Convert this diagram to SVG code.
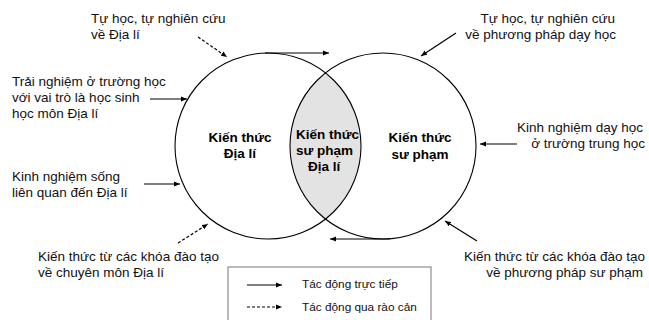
<svg xmlns="http://www.w3.org/2000/svg" width="649" height="320" viewBox="0 0 649 320">
<defs>
<marker id="ah" viewBox="0 0 6 6" refX="6" refY="3" markerWidth="6" markerHeight="6" markerUnits="userSpaceOnUse" orient="auto">
<path d="M0,0.5 L6,3 L0,5.5 Z" fill="#000"/>
</marker>
<style>
.t{font-family:"Liberation Sans",Arial,sans-serif;font-size:13.5px;fill:#111}
.b{font-family:"Liberation Sans",Arial,sans-serif;font-size:13.5px;font-weight:bold;fill:#000}
.l{font-family:"Liberation Sans",Arial,sans-serif;font-size:11.8px;fill:#111}
.c{fill:none;stroke:#000;stroke-width:1.1}
.s{fill:none;stroke:#000;stroke-width:1.2;marker-end:url(#ah)}
.d{fill:none;stroke:#000;stroke-width:1.2;stroke-dasharray:3,2;marker-end:url(#ah)}
.r{text-anchor:end}
.m{text-anchor:middle}
</style>
</defs>
<rect width="649" height="320" fill="#fff"/>
<g id="lens">
<path d="M325.5,73 A93,93 0 0 0 325.5,219 A93,93 0 0 0 325.5,73 Z" fill="#e3e3e3"/>
</g>
<g id="circle-dia-li">
<circle class="c" cx="268" cy="146" r="93"/>
<text class="b m" x="240" y="142">Kiến thức</text>
<text class="b m" x="240" y="158">Địa lí</text>
</g>
<g id="circle-su-pham">
<circle class="c" cx="383" cy="146" r="93"/>
<text class="b m" x="420" y="142">Kiến thức</text>
<text class="b m" x="420" y="159">sư phạm</text>
</g>
<g id="center-label">
<text class="b" x="296" y="139">Kiến thức</text>
<text class="b" x="296" y="155">sư phạm</text>
<text class="b" x="308" y="171">Địa lí</text>
</g>
<g id="src-tl">
<text class="t" x="91" y="23">Tự học, tự nghiên cứu</text>
<text class="t" x="91" y="39">về Địa lí</text>
</g>
<g id="src-l1">
<text class="t" x="12" y="86">Trải nghiệm ở trường học</text>
<text class="t" x="12" y="102">với vai trò là học sinh</text>
<text class="t" x="12" y="118">học môn Địa lí</text>
</g>
<g id="src-l2">
<text class="t" x="12" y="181">Kinh nghiệm sống</text>
<text class="t" x="12" y="197">liên quan đến Địa lí</text>
</g>
<g id="src-bl">
<text class="t" x="38" y="261">Kiến thức từ các khóa đào tạo</text>
<text class="t" x="38" y="277">về chuyên môn Địa lí</text>
</g>
<g id="src-tr">
<text class="t r" x="615" y="23">Tự học, tự nghiên cứu</text>
<text class="t r" x="616" y="39">về phương pháp dạy học</text>
</g>
<g id="src-r">
<text class="t r" x="643" y="132">Kinh nghiệm dạy học</text>
<text class="t r" x="645" y="148">ở trường trung học</text>
</g>
<g id="src-br">
<text class="t r" x="645" y="261">Kiến thức từ các khóa đào tạo</text>
<text class="t r" x="643" y="277">về phương pháp sư phạm</text>
</g>
<g id="connectors">
<line class="d" x1="198" y1="37" x2="227" y2="57"/>
<line class="s" x1="265" y1="53" x2="329" y2="53"/>
<line class="s" x1="150" y1="99" x2="187" y2="99"/>
<line class="s" x1="144" y1="184" x2="180" y2="184"/>
<line class="d" x1="178" y1="243" x2="208" y2="224"/>
<line class="s" x1="390" y1="239" x2="330" y2="239"/>
<line class="s" x1="477" y1="241" x2="445" y2="221"/>
<line class="s" x1="517" y1="144" x2="480" y2="144"/>
<line class="s" x1="456" y1="33" x2="421" y2="56"/>
</g>
<g id="legend">
<rect x="228" y="267" width="203" height="60" fill="none" stroke="#777" stroke-width="1"/>
<line class="s" x1="247" y1="285" x2="282" y2="285"/>
<line class="d" x1="247" y1="307" x2="282" y2="307"/>
<text class="l" x="302" y="288">Tác động trực tiếp</text>
<text class="l" x="302" y="311">Tác động qua rào cản</text>
</g>
</svg>
